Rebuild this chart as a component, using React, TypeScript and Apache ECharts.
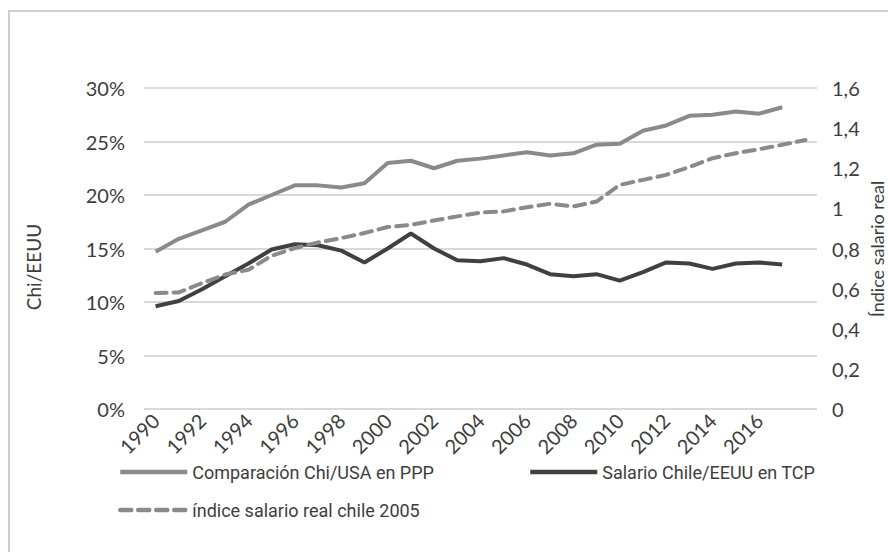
import React, { useEffect, useRef } from "react";
import * as echarts from "echarts";

const years = [
  "1990", "1991", "1992", "1993", "1994", "1995", "1996", "1997", "1998", "1999",
  "2000", "2001", "2002", "2003", "2004", "2005", "2006", "2007", "2008", "2009",
  "2010", "2011", "2012", "2013", "2014", "2015", "2016", "2017", "2018",
];

const seriesNames = [
  "Comparación Chi/USA en PPP",
  "Salario Chile/EEUU en TCP",
  "índice salario real chile 2005",
];

// % (left axis)
const pppComparison = [
  14.7, 15.9, 16.7, 17.5, 19.1, 20.0, 20.9, 20.9, 20.7, 21.1,
  23.0, 23.2, 22.5, 23.2, 23.4, 23.7, 24.0, 23.7, 23.9, 24.7,
  24.8, 26.0, 26.5, 27.4, 27.5, 27.8, 27.6, 28.2,
];

// % (left axis)
const tcpSalary = [
  9.6, 10.1, 11.2, 12.4, 13.6, 14.9, 15.4, 15.3, 14.8, 13.7,
  15.0, 16.4, 15.0, 13.9, 13.8, 14.1, 13.5, 12.6, 12.4, 12.6,
  12.0, 12.8, 13.7, 13.6, 13.1, 13.6, 13.7, 13.5,
];

// index (right axis)
const realWageIndex = [
  0.578, 0.581, 0.628, 0.670, 0.694, 0.764, 0.802, 0.830, 0.852, 0.877,
  0.907, 0.918, 0.940, 0.960, 0.979, 0.985, 1.006, 1.023, 1.010, 1.034,
  1.117, 1.142, 1.167, 1.206, 1.250, 1.275, 1.295, 1.317, 1.341,
];

const leftAxisName = "Chi/EEUU";
const rightAxisName = "Índice salario real";

const FONT = "Lato, 'Noto Sans', sans-serif";
const LEG_FONT = "Roboto, 'Noto Sans', sans-serif";
const TXT = "#3d3d3d";

export default function App() {
  const ref = useRef<HTMLDivElement>(null);

  useEffect(() => {
    if (!ref.current) return;
    const chart = echarts.init(ref.current, undefined, { renderer: "svg" });
    const legendCommon = {
      orient: "horizontal",
      itemWidth: 67,
      itemHeight: 14,
      itemStyle: { opacity: 0, borderWidth: 0 },
      lineStyle: { width: 4.5 },
      textStyle: { fontSize: 18, fontFamily: LEG_FONT, color: TXT },
    };
    chart.setOption({
      animation: false,
      backgroundColor: "#ffffff",
      grid: { left: 144, right: 71, top: 88, bottom: 143, containLabel: false },
      xAxis: {
        type: "category",
        data: years,
        boundaryGap: true,
        axisLine: { show: false },
        axisTick: { show: false },
        axisLabel: {
          rotate: 45,
          margin: 8,
          fontSize: 20,
          fontFamily: FONT,
          color: TXT,
          interval: (index: number) => index % 2 === 0 && index < 28,
        },
      },
      yAxis: [
        {
          type: "value",
          min: 0,
          max: 30,
          interval: 5,
          axisLine: { show: false },
          axisTick: { show: false },
          axisLabel: {
            margin: 19,
            fontSize: 20,
            fontFamily: FONT,
            color: TXT,
            formatter: (v: number) => `${v}%`,
          },
          splitLine: { lineStyle: { color: "#d9d9d9", width: 2 } },
        },
        {
          type: "value",
          min: 0,
          max: 1.6,
          interval: 0.2,
          axisLine: { show: false },
          axisTick: { show: false },
          splitLine: { show: false },
          axisLabel: {
            margin: 15,
            fontSize: 20,
            fontFamily: FONT,
            color: TXT,
            formatter: (v: number) => {
              const r = Math.round(v * 10) / 10;
              return String(r).replace(".", ",");
            },
          },
        },
      ],
      legend: [
        { ...legendCommon, left: 113, top: 458, data: [seriesNames[0]] },
        { ...legendCommon, left: 523, top: 458, data: [seriesNames[1]] },
        { ...legendCommon, left: 113, top: 496, data: [seriesNames[2]] },
      ],
      series: [
        {
          name: seriesNames[0],
          type: "line",
          yAxisIndex: 0,
          data: pppComparison,
          symbol: "none",
          showSymbol: false,
          lineStyle: { color: "#8a8a8a", width: 4 },
          itemStyle: { color: "#8a8a8a" },
        },
        {
          name: seriesNames[1],
          type: "line",
          yAxisIndex: 0,
          data: tcpSalary,
          symbol: "none",
          showSymbol: false,
          lineStyle: { color: "#404040", width: 4 },
          itemStyle: { color: "#404040" },
        },
        {
          name: seriesNames[2],
          type: "line",
          yAxisIndex: 1,
          data: realWageIndex,
          symbol: "none",
          showSymbol: false,
          lineStyle: { color: "#8a8a8a", width: 4, type: [11, 7], cap: "round" },
          itemStyle: { color: "#8a8a8a" },
        },
      ],
      graphic: [
        {
          type: "rect",
          shape: { x: 9, y: 11, width: 1200, height: 1200 },
          style: { fill: "none", stroke: "#cdcdcd", lineWidth: 2 },
          silent: true,
        },
        {
          type: "text",
          x: 33,
          y: 267,
          rotation: Math.PI / 2,
          style: {
            text: leftAxisName,
            fontSize: 19,
            fontFamily: FONT,
            fill: TXT,
            align: "center",
            verticalAlign: "middle",
          },
        },
        {
          type: "text",
          x: 877,
          y: 249,
          rotation: Math.PI / 2,
          style: {
            text: rightAxisName,
            fontSize: 18,
            fontFamily: FONT,
            fill: TXT,
            align: "center",
            verticalAlign: "middle",
          },
        },
      ],
    });
    return () => chart.dispose();
  }, []);

  return (
    <div
      ref={ref}
      style={{ position: "fixed", left: 0, top: 0, width: 888, height: 552 }}
    />
  );
}
